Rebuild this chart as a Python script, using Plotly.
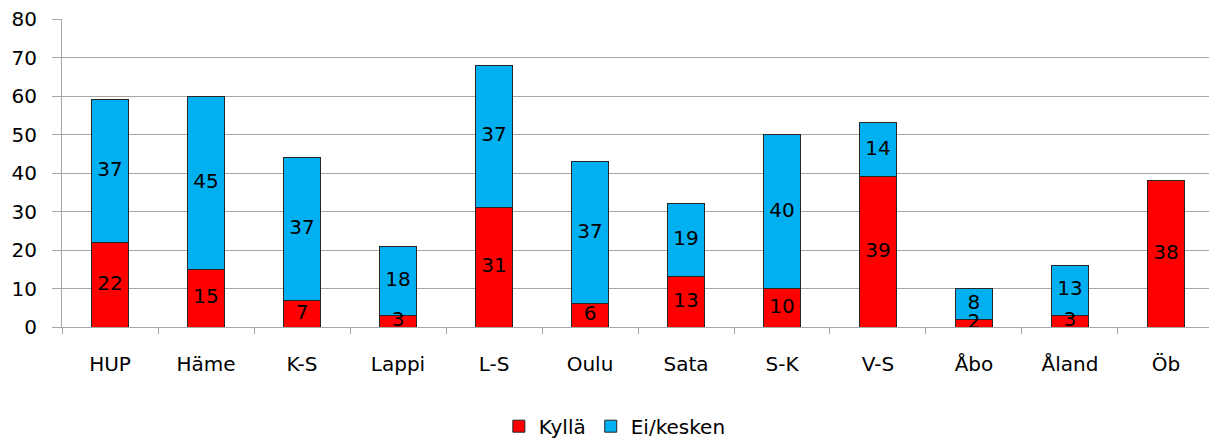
import plotly.graph_objects as go

categories = ["HUP", "Häme", "K-S", "Lappi", "L-S", "Oulu", "Sata", "S-K", "V-S", "Åbo", "Åland", "Öb"]
kylla = [22, 15, 7, 3, 31, 6, 13, 10, 39, 2, 3, 38]
ei_kesken = [37, 45, 37, 18, 37, 37, 19, 40, 14, 8, 13, 0]
y_ticks = [0, 10, 20, 30, 40, 50, 60, 70, 80]

FONT = "DejaVu Sans"
RED = "#FF0000"
BLUE = "#00B0F0"
OUTLINE = "#262626"
GRID = "#A6A6A6"

fig = go.Figure()
fig.add_trace(go.Bar(x=categories, y=kylla, name="Kyllä", marker=dict(color=RED, line=dict(color=OUTLINE, width=1)), width=0.385, hoverinfo="skip"))
fig.add_trace(go.Bar(x=categories, y=ei_kesken, name="Ei/kesken", marker=dict(color=BLUE, line=dict(color=OUTLINE, width=1)), width=0.385, hoverinfo="skip"))

# segment labels, centered in each segment
lx, ly, lt = [], [], []
for c, a, b in zip(categories, kylla, ei_kesken):
    if a > 0:
        lx.append(c); ly.append(a / 2); lt.append(str(a))
    if b > 0:
        lx.append(c); ly.append(a + b / 2); lt.append(str(b))
fig.add_trace(go.Scatter(x=lx, y=ly, text=lt, mode="text", textposition="middle center",
                         textfont=dict(family=FONT, size=20, color="black"),
                         showlegend=False, hoverinfo="skip", cliponaxis=False))

fig.update_layout(
    barmode="stack",
    width=1209, height=441,
    margin=dict(l=62, r=0, t=19, b=114, autoexpand=False),
    plot_bgcolor="white", paper_bgcolor="white",
    font=dict(family=FONT, size=20, color="black"),
    showlegend=True,
    legend=dict(orientation="h", x=0.482, xanchor="center", y=-0.322, yanchor="middle",
                font=dict(family=FONT, size=20, color="black"), traceorder="normal",
                itemwidth=30, bgcolor="rgba(0,0,0,0)"),
    xaxis=dict(type="category", range=[-0.5, 11.448], showline=True, linecolor=GRID, linewidth=1,
               ticks="outside", tickson="boundaries", ticklen=6, tickcolor=GRID,
               ticklabelstandoff=19, automargin=False,
               showgrid=False, tickfont=dict(family=FONT, size=20, color="black")),
    yaxis=dict(range=[0, 80], tickvals=y_ticks, showline=True, linecolor=GRID, linewidth=1,
               ticks="outside", ticklen=9, tickcolor=GRID, showgrid=True, gridcolor=GRID, gridwidth=1,
               ticklabelstandoff=11, automargin=False,
               zeroline=False, tickfont=dict(family=FONT, size=20, color="black")),
)

fig.write_html("out.html", config={"displayModeBar": False},
               post_script="document.body.style.margin='0';document.body.style.overflow='hidden';")
